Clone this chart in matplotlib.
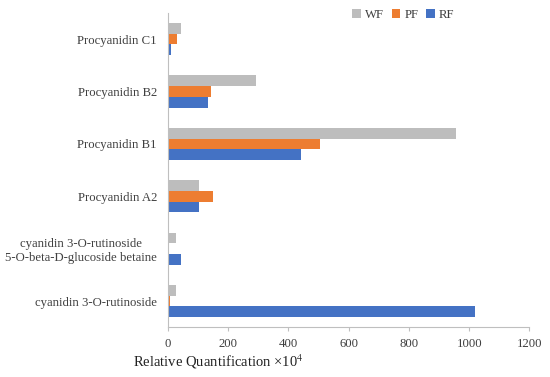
import matplotlib
matplotlib.use('Agg')
import matplotlib.pyplot as plt
import numpy as np

plt.rcParams['font.family'] = ['Liberation Serif', 'DejaVu Serif']
plt.rcParams['mathtext.fontset'] = 'stix'

categories = ['cyanidin 3-O-rutinoside',
              'cyanidin 3-O-rutinoside\n5-O-beta-D-glucoside betaine',
              'Procyanidin A2', 'Procyanidin B1', 'Procyanidin B2', 'Procyanidin C1']
rf = [1020, 42, 102, 441, 134, 10]
pf = [5, 3, 149, 506, 142, 31]
wf = [28, 27, 102, 957, 293, 44]
xticks = [0, 200, 400, 600, 800, 1000, 1200]

c_rf, c_pf, c_wf = '#4472C4', '#ED7D31', '#BDBDBD'
txt = '#404040'

fig = plt.figure(figsize=(5.5, 3.77), dpi=100)
ax = fig.add_axes([0.3055, 0.1318, 0.657, 0.834])

y = np.arange(len(categories))
h = 0.204
ax.barh(y - h, rf, height=h, color=c_rf, label='RF')
ax.barh(y, pf, height=h, color=c_pf, label='PF')
ax.barh(y + h, wf, height=h, color=c_wf, label='WF')

ax.set_xlim(0, 1200)
ax.set_ylim(-0.5, len(categories) - 0.5)
ax.set_xticks(xticks)
ax.set_xticklabels([str(t) for t in xticks], color=txt, fontsize=9.2)
ax.set_yticks(y)
ax.set_yticklabels(categories, color=txt, fontsize=9.2, multialignment='center')
ax.tick_params(axis='y', length=0, pad=8)
ax.tick_params(axis='x', length=3, color='#BFBFBF', pad=5)
for s in ['top', 'right']:
    ax.spines[s].set_visible(False)
for s in ['left', 'bottom']:
    ax.spines[s].set_color('#BFBFBF')

fig.text(0.241, 0.040, 'Relative Quantification ×10$^{4}$', fontsize=10.5,
         color='#222222', ha='left', va='center')

handles, labels = ax.get_legend_handles_labels()
ax.legend(handles[::-1], labels[::-1], loc='center', bbox_to_anchor=(0.733, 0.96),
          bbox_transform=fig.transFigure, ncol=3, frameon=False, fontsize=9.2,
          handlelength=0.7, handleheight=0.7, handletextpad=0.3, columnspacing=0.6,
          labelcolor=txt)

fig.savefig('out.png', dpi=100)
